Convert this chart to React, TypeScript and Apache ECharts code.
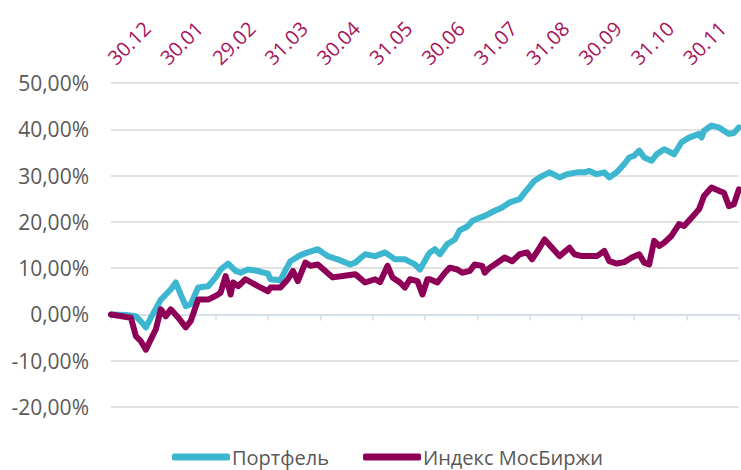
import React, { useEffect, useRef } from "react";
import * as echarts from "echarts";

// x = trading day since 30.12 (252 days = 12 months), y = return, %
const monthLabels = ["30.12", "30.01", "29.02", "31.03", "30.04", "31.05", "30.06", "31.07", "31.08", "30.09", "31.10", "30.11"];
const yTicks = [-20, -10, 0, 10, 20, 30, 40, 50];
const seriesNames = ["Портфель", "Индекс МосБиржи"];

const portfolio: [number, number][] = [
  [0, 0], [6, -0.1], [10, -0.4], [12, -1.5], [14, -2.8], [16, -0.7], [20, 3.2], [22, 4.3], [24, 5.4], [26, 6.9],
  [28, 4.3], [30, 1.8], [32, 2.2], [35, 5.8], [39, 6.1], [42, 8.0], [44, 9.7], [47, 11.0], [50, 9.4], [52, 9.0],
  [55, 9.7], [59, 9.4], [60, 9.2], [63, 8.8], [64, 7.6], [68, 7.4], [70, 9.5], [72, 11.5], [76, 12.8], [79, 13.4],
  [83, 14.1], [87, 12.6], [91, 11.9], [96, 10.8], [98, 11.2], [102, 13.0], [106, 12.6], [110, 13.4], [114, 11.9], [118, 11.9],
  [122, 10.8], [124, 9.7], [127, 12.6], [128, 13.4], [130, 14.1], [132, 13.0], [135, 15.2], [138, 16.2], [140, 18.2], [143, 19.0],
  [145, 20.2], [148, 20.9], [150, 21.3], [154, 22.4], [157, 23.1], [160, 24.2], [164, 24.9], [166, 26.3], [170, 28.9], [172, 29.6],
  [176, 30.7], [180, 29.6], [183, 30.3], [187, 30.7], [190, 30.7], [192, 31.0], [195, 30.3], [198, 30.7], [200, 29.6], [203, 30.7],
  [206, 32.5], [208, 33.9], [210, 34.3], [212, 35.4], [214, 33.9], [217, 33.2], [219, 34.6], [222, 35.7], [226, 34.6], [229, 37.2],
  [232, 38.2], [236, 39.0], [237, 38.2], [238, 39.7], [241, 40.8], [244, 40.4], [248, 39.0], [250, 39.2], [252, 40.4],
];

const moex: [number, number][] = [
  [0, 0], [8, -0.7], [10, -4.7], [12, -5.8], [14, -7.6], [16, -5.4], [18, -3.2], [20, 1.1], [22, -0.4], [24, 1.1],
  [27, -0.7], [30, -2.8], [32, -1.4], [35, 3.2], [39, 3.2], [42, 4.0], [44, 4.7], [46, 8.3], [48, 4.3], [49, 6.9],
  [51, 6.1], [54, 7.6], [59, 6.1], [63, 5.0], [64, 5.8], [68, 5.8], [71, 7.6], [73, 9.4], [75, 7.2], [78, 11.2],
  [80, 10.5], [83, 10.8], [86, 9.4], [89, 8.0], [93, 8.3], [98, 8.7], [102, 6.9], [106, 7.6], [108, 7.0], [111, 10.5],
  [113, 8.0], [116, 6.9], [118, 5.8], [120, 7.6], [123, 7.2], [125, 4.3], [127, 7.6], [128, 7.6], [131, 6.9], [134, 9.0],
  [136, 10.1], [139, 9.7], [141, 9.0], [144, 9.4], [146, 10.8], [149, 10.5], [150, 9.0], [152, 10.1], [154, 10.8], [158, 12.3],
  [161, 11.5], [164, 13.0], [167, 13.4], [169, 11.9], [172, 14.4], [174, 16.2], [177, 14.4], [180, 12.6], [184, 14.4], [186, 13.0],
  [189, 12.6], [192, 12.6], [195, 12.6], [198, 13.7], [200, 11.5], [203, 11.0], [206, 11.3], [209, 12.3], [212, 13.0], [214, 11.2],
  [216, 10.8], [218, 15.9], [220, 14.8], [222, 15.5], [225, 17.0], [228, 19.5], [230, 19.1], [233, 20.9], [236, 22.7], [238, 25.6],
  [241, 27.4], [244, 26.7], [246, 26.3], [248, 23.4], [250, 23.8], [252, 27.0],
];

const DAYS_PER_MONTH = 21;
const TOTAL_DAYS = 252;

export default function App() {
  const ref = useRef<HTMLDivElement>(null);
  useEffect(() => {
    if (!ref.current) return;
    const chart = echarts.init(ref.current, undefined, { renderer: "svg" });
    const font = "'Open Sans', sans-serif";
    const monthFormatter = (v: number) => {
      const i = Math.round(v / DAYS_PER_MONTH);
      return i < monthLabels.length ? monthLabels[i] : "";
    };
    chart.setOption({
      animation: false,
      grid: { left: 111, right: 0, top: 83, bottom: 63, containLabel: false },
      legend: {
        left: 172,
        top: 447,
        padding: 0,
        icon: "roundRect",
        itemWidth: 58,
        itemHeight: 7,
        itemGap: 34,
        textStyle: { fontSize: 20, lineHeight: 20, color: "#595959", fontFamily: font, padding: [0, 0, 0, -3] },
        data: seriesNames,
      },
      xAxis: [
        {
          type: "value",
          min: 0,
          max: TOTAL_DAYS,
          interval: DAYS_PER_MONTH,
          axisLine: { onZero: true, lineStyle: { color: "#d3e0f0", width: 1.5 } },
          axisTick: { show: true, length: 6, lineStyle: { color: "#d3e0f0", width: 1.5 } },
          axisLabel: { show: false },
          splitLine: { show: false },
        },
        {
          type: "value",
          position: "top",
          min: 0,
          max: TOTAL_DAYS,
          interval: DAYS_PER_MONTH,
          axisLine: { show: false },
          axisTick: { show: false },
          splitLine: { show: false },
          axisLabel: {
            rotate: -45,
            margin: 22,
            fontSize: 20,
            color: "#A8145A",
            fontFamily: font,
            formatter: monthFormatter,
          },
        },
      ],
      yAxis: {
        type: "value",
        min: -20,
        max: 50,
        interval: 10,
        axisLine: { show: false },
        axisTick: { show: false },
        splitLine: { lineStyle: { color: "#d9d9d9", width: 1.5 } },
        axisLabel: {
          margin: 22,
          fontSize: 21,
          color: "#595959",
          fontFamily: font,
          formatter: (v: number) => (yTicks.includes(v) ? v.toFixed(2).replace(".", ",") + "%" : ""),
        },
      },
      series: [
        {
          name: seriesNames[0],
          type: "line",
          xAxisIndex: 0,
          data: portfolio,
          showSymbol: false,
          color: "#3DB6D0",
          lineStyle: { width: 6, cap: "round", join: "round" },
          z: 2,
        },
        {
          name: seriesNames[1],
          type: "line",
          xAxisIndex: 0,
          data: moex,
          showSymbol: false,
          color: "#8E0058",
          lineStyle: { width: 6, cap: "round", join: "round" },
          z: 3,
        },
      ],
    });
    return () => chart.dispose();
  }, []);
  return <div ref={ref} style={{ width: 741, height: 470, position: "absolute", left: 0, top: 0 }} />;
}
